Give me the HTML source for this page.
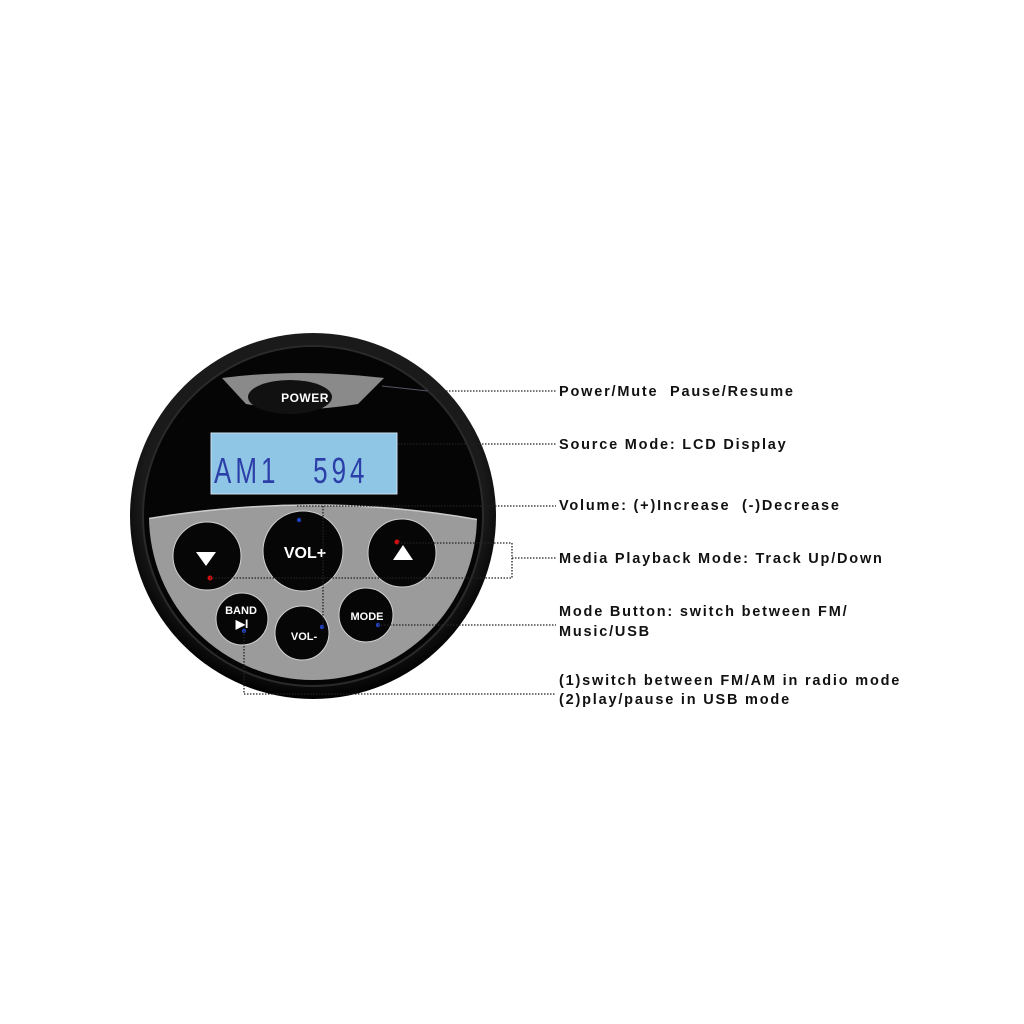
<!DOCTYPE html>
<html><head><meta charset="utf-8"><style>
html,body{margin:0;padding:0;background:#fff;width:1024px;height:1024px;overflow:hidden}
svg{display:block}
.t{font-family:"Liberation Sans",Arial,sans-serif;font-weight:bold;font-size:14.5px;letter-spacing:1.8px;fill:#111;white-space:pre}
.d{stroke:#222;stroke-width:1.3;stroke-dasharray:1.5 1.5;fill:none}
.bt{font-family:"Liberation Sans",Arial,sans-serif;font-weight:bold;fill:#fff;text-anchor:middle}
</style></head><body>
<svg width="1024" height="1024" viewBox="0 0 1024 1024">
<defs>
<radialGradient id="rim" cx="50%" cy="45%" r="55%"><stop offset="0.85" stop-color="#1a1a1a"/><stop offset="1" stop-color="#000"/></radialGradient>
<clipPath id="inner"><circle cx="313" cy="516" r="164"/></clipPath>
</defs>
<circle cx="313" cy="516" r="183" fill="url(#rim)"/>
<circle cx="313" cy="516" r="170" fill="#050505" stroke="#2a2a2a" stroke-width="2"/>
<path d="M222 378 Q300 368 384 378 L358 404 Q300 414 246 404 Z" fill="#8a8a8a"/>
<ellipse cx="290" cy="397" rx="42" ry="17" fill="#111"/>
<text x="305" y="402" class="bt" font-size="12" letter-spacing="0.5">POWER</text>
<rect x="211" y="433" width="186" height="61" fill="#8fc6e6"/>
<rect x="211" y="433" width="186" height="61" fill="none" stroke="#cde" stroke-width="1"/>
<text x="0" y="0" font-family="Liberation Sans,sans-serif" font-size="26" fill="#2c3fa8" letter-spacing="4" transform="translate(214,483) scale(1,1.4)" style="white-space:pre">AM1   594</text>
<g clip-path="url(#inner)">
<path d="M140 520 Q313 490 480 520 L480 700 L140 700 Z" fill="#9b9b9b" stroke="#ccc" stroke-width="1.5"/>
</g>
<g fill="#060606" stroke="#d0d0d0" stroke-width="1">
<circle cx="207" cy="556" r="34"/>
<circle cx="303" cy="551" r="40"/>
<circle cx="402" cy="553" r="34"/>
<circle cx="242" cy="619" r="26"/>
<circle cx="302" cy="633" r="27"/>
<circle cx="366" cy="615" r="27"/>
</g>
<path d="M196 552 L216 552 L206 566 Z" fill="#fff"/>
<path d="M393 560 L413 560 L403 545 Z" fill="#fff"/>
<text x="305" y="558" class="bt" font-size="16">VOL+</text>
<text x="304" y="640" class="bt" font-size="11">VOL-</text>
<text x="367" y="620" class="bt" font-size="11">MODE</text>
<text x="241" y="614" class="bt" font-size="11">BAND</text>
<text x="242" y="628" class="bt" font-size="12">▶I</text>
<g fill="#2040c0"><circle cx="299" cy="520" r="2.2"/><circle cx="322" cy="627" r="2.2"/><circle cx="378" cy="625" r="2.2"/><circle cx="244" cy="631" r="2.2"/></g>
<g fill="#d01010"><circle cx="397" cy="542" r="2.5"/><circle cx="210" cy="578" r="2.5"/></g>
<path class="d" d="M428 391 H556"/>
<path d="M382 386 L428 391" stroke="#556" stroke-width="1" fill="none"/>
<path class="d" d="M398 444 H556"/>
<path class="d" d="M297 506 H556 M323 506 V627"/>
<path class="d" d="M398 543 H512 V578 H210 M512 558 H556"/>
<path class="d" d="M378 625 H556"/>
<path class="d" d="M244 631 V694 H556"/>
<text class="t" x="559" y="396">Power/Mute  Pause/Resume</text>
<text class="t" x="559" y="449">Source Mode: LCD Display</text>
<text class="t" x="559" y="510">Volume: (+)Increase  (-)Decrease</text>
<text class="t" x="559" y="563">Media Playback Mode: Track Up/Down</text>
<text class="t" x="559" y="616">Mode Button: switch between FM/</text>
<text class="t" x="559" y="636">Music/USB</text>
<text class="t" x="559" y="685">(1)switch between FM/AM in radio mode</text>
<text class="t" x="559" y="704">(2)play/pause in USB mode</text>
</svg>
</body></html>
